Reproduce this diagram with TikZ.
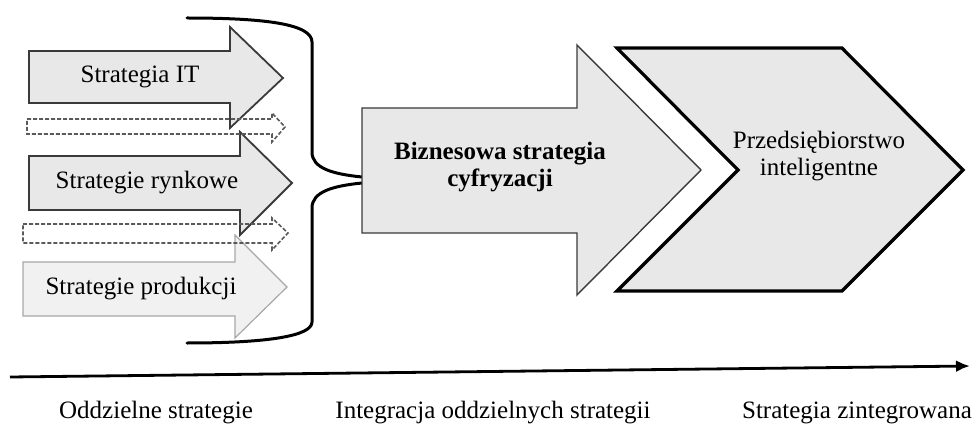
\documentclass[tikz,border=0pt]{standalone}
\usepackage{fontspec}
\setmainfont{Liberation Serif}
\usepackage{tikz}
\usetikzlibrary{positioning, arrows.meta}
\usepackage{xcolor}
\definecolor{ArrowFill}{HTML}{E8E8E8}
\definecolor{ArrowEdge}{HTML}{3A3A3A}
\definecolor{LightFill}{HTML}{F1F1F1}
\definecolor{LightEdge}{HTML}{A8A8A8}
\definecolor{DashEdge}{HTML}{5A5A5A}

\begin{document}
\begin{tikzpicture}[x=1pt, y=-1pt,
  solidarr/.style={draw=ArrowEdge, fill=ArrowFill, line width=1.8pt, line join=miter},
  lightarr/.style={draw=LightEdge, fill=LightFill, line width=1.2pt, line join=miter},
  dasharr/.style={draw=DashEdge, line width=1.6pt, dash pattern=on 4pt off 2pt},
  bigarr/.style={draw=ArrowEdge, fill=ArrowFill, line width=1.4pt, line join=miter},
  chevron/.style={draw=black, fill=ArrowFill, line width=3.2pt, line join=miter},
  brace/.style={draw=black, line width=3pt, line cap=round},
  timeline/.style={-{Latex[length=14pt, width=12pt]}, line width=2.8pt},
  lbl/.style={align=center, inner sep=0pt, font=\fontsize{25}{27}\selectfont},
  bottomlbl/.style={anchor=base, inner sep=0pt, font=\fontsize{25}{27}\selectfont}
]
\useasboundingbox (0,0) rectangle (978,425);

% separate strategies
\draw[solidarr] (29,51) -- (230,51) -- (230,27) -- (283,78) -- (230,128) -- (230,103) -- (29,103) -- cycle;
\draw[solidarr] (29,156) -- (240,156) -- (240,132) -- (292,183) -- (240,235) -- (240,210) -- (29,210) -- cycle;
\draw[lightarr] (23,262) -- (235,262) -- (235,235) -- (287,287) -- (235,338) -- (235,316) -- (23,316) -- cycle;
\draw[dasharr] (27,119) -- (272,119) -- (272,113) -- (285,127) -- (272,142) -- (272,134) -- (27,134) -- cycle;
\draw[dasharr] (23,224) -- (272,224) -- (272,218) -- (288,233) -- (272,250) -- (272,243) -- (23,243) -- cycle;

\node[lbl] (it)    at (140,77)  {Strategia IT};
\node[lbl] (rynek) at (147,183) {Strategie rynkowe};
\node[lbl] (prod)  at (141,289) {Strategie produkcji};

% brace
\draw[brace] (187,18) .. controls (265,18) and (312,24) .. (312,42) -- (312,152)
  .. controls (312,168) and (332,174) .. (362,177);
\draw[brace] (362,183) .. controls (332,186) and (312,192) .. (312,208) -- (312,322)
  .. controls (312,336) and (268,343) .. (187,343);

% integration
\draw[bigarr] (362,108) -- (577,108) -- (577,45) -- (701,170) -- (577,295) -- (577,233) -- (362,233) -- cycle;
\node[lbl, font=\fontsize{25}{27}\selectfont\bfseries] (cyfr) at (500,167) {Biznesowa strategia\\cyfryzacji};

% integrated strategy
\draw[chevron] (617,48) -- (842,48) -- (963,170) -- (842,291) -- (617,291) -- (738,170) -- cycle;
\node[lbl] (przeds) at (819,156) {Przedsiębiorstwo\\inteligentne};

% time axis
\coordinate (tstart) at (10,377);
\coordinate (tend)   at (970,366);
\draw[timeline] (tstart) -- (tend);

\node[bottomlbl] (oddz)  at (156,418) {Oddzielne strategie};
\node[bottomlbl] (integ) at (493,418) {Integracja oddzielnych strategii};
\node[bottomlbl] (zint)  at (857,418) {Strategia zintegrowana};
\end{tikzpicture}
\end{document}
